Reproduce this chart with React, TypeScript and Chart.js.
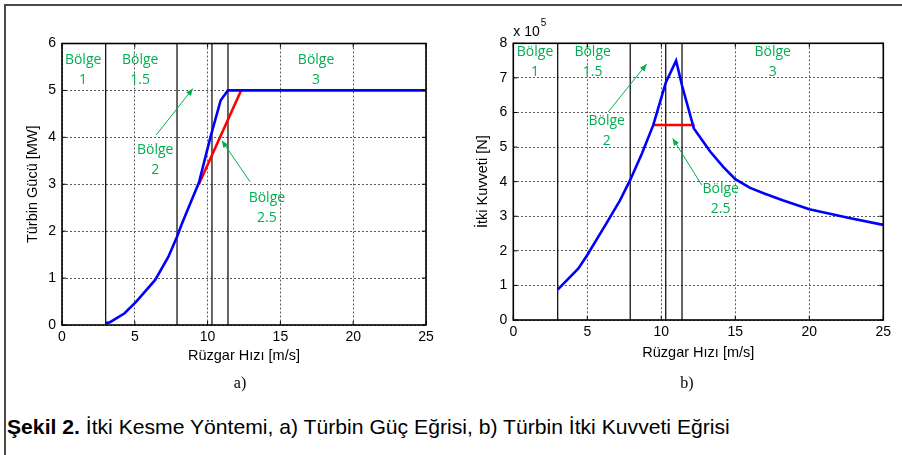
import React, { useEffect, useLayoutEffect, useRef } from 'react';
import { Chart, registerables } from 'chart.js';
Chart.register(...registerables);

// ---- data ----
const windTicks = [0, 5, 10, 15, 20, 25];
const powerTicks = [0, 1, 2, 3, 4, 5, 6];
const thrustTicks = [0, 1, 2, 3, 4, 5, 6, 7, 8];
const regionBounds = [3, 7.9, 10.3, 11.4];

const powerWind = [3, 3.3, 4.3, 5.1, 6.4, 7.3, 7.9, 8.2, 8.9, 9.4, 10.2, 10.9, 11.4, 25];
const powerMW = [0.04, 0.06, 0.25, 0.5, 0.96, 1.45, 1.88, 2.13, 2.66, 3.03, 4.01, 4.79, 5.0, 5.0];
const powerCutWind = [9.4, 12.3];
const powerCutMW = [3.0, 5.0];

const thrustWind = [3, 4.4, 5.0, 6.3, 7.2, 7.9, 8.7, 9.46, 10.3, 11.0, 11.4, 12.2, 13.3, 14.2, 15.0, 16.0, 17.0, 18.2, 20.0, 22.7, 25];
const thrustVal = [0.88, 1.49, 1.88, 2.8, 3.45, 4.05, 4.82, 5.64, 6.86, 7.5, 6.78, 5.54, 4.87, 4.42, 4.07, 3.82, 3.65, 3.46, 3.2, 2.95, 2.75];
const thrustCutWind = [9.46, 12.25];
const thrustCutVal = [5.64, 5.64];

const GREEN = '#00b050';

type Note = { lines: string[]; x: number; y: number };
type Arrow = { from: [number, number]; to: [number, number] };

const pts = (xs: number[], ys: number[]) => xs.map((x, i) => ({ x, y: ys[i] }));

function makeChart(
  canvas: HTMLCanvasElement,
  cfg: {
    curveX: number[]; curveY: number[]; cutX: number[]; cutY: number[];
    yTicks: number[]; yMax: number; yTitle: string;
    pad: { left: number; right: number; top: number; bottom: number };
    yWidth: number; xHeight: number; xTitlePad: number;
    notes: Note[]; arrows: Arrow[]; exponent?: boolean;
  }
) {
  const vlines = regionBounds.map((b) => ({
    data: [{ x: b, y: 0 }, { x: b, y: cfg.yMax }],
    borderColor: '#000', borderWidth: 1.2, pointRadius: 0, showLine: true,
  }));
  const decor = {
    id: 'decor',
    afterDraw(chart: any) {
      const { ctx, chartArea: a, scales } = chart;
      const xs = scales.x, ys = scales.y;
      ctx.save();
      ctx.strokeStyle = '#000';
      ctx.lineWidth = 1;
      const tl = 4;
      ctx.beginPath();
      windTicks.forEach((t) => {
        const px = xs.getPixelForValue(t);
        ctx.moveTo(px, a.bottom); ctx.lineTo(px, a.bottom - tl);
        ctx.moveTo(px, a.top); ctx.lineTo(px, a.top + tl);
      });
      cfg.yTicks.forEach((t) => {
        const py = ys.getPixelForValue(t);
        ctx.moveTo(a.left, py); ctx.lineTo(a.left + tl, py);
        ctx.moveTo(a.right, py); ctx.lineTo(a.right - tl, py);
      });
      ctx.stroke();
      ctx.lineWidth = 1.6;
      ctx.strokeRect(a.left, a.top, a.right - a.left, a.bottom - a.top);
      ctx.fillStyle = GREEN;
      ctx.font = '14px "Open Sans"';
      ctx.textAlign = 'center';
      ctx.textBaseline = 'middle';
      cfg.notes.forEach((n) => {
        const px = xs.getPixelForValue(n.x);
        const py = ys.getPixelForValue(n.y);
        n.lines.forEach((l, i) => ctx.fillText(l, px, py + i * 20));
      });
      ctx.strokeStyle = GREEN;
      ctx.lineWidth = 1;
      cfg.arrows.forEach((ar) => {
        const x1 = xs.getPixelForValue(ar.from[0]), y1 = ys.getPixelForValue(ar.from[1]);
        const x2 = xs.getPixelForValue(ar.to[0]), y2 = ys.getPixelForValue(ar.to[1]);
        ctx.beginPath(); ctx.moveTo(x1, y1); ctx.lineTo(x2, y2); ctx.stroke();
        const ang = Math.atan2(y2 - y1, x2 - x1);
        const L = 7, W = 3;
        ctx.beginPath();
        ctx.moveTo(x2, y2);
        ctx.lineTo(x2 - L * Math.cos(ang) + W * Math.sin(ang), y2 - L * Math.sin(ang) - W * Math.cos(ang));
        ctx.lineTo(x2 - L * Math.cos(ang) - W * Math.sin(ang), y2 - L * Math.sin(ang) + W * Math.cos(ang));
        ctx.closePath(); ctx.fill();
      });
      if (cfg.exponent) {
        ctx.fillStyle = '#000';
        ctx.textAlign = 'left';
        ctx.textBaseline = 'alphabetic';
        ctx.font = '14px "Liberation Sans"';
        ctx.fillText('x 10', a.left, a.top - 7);
        const w = ctx.measureText('x 10').width;
        ctx.font = '10px "Liberation Sans"';
        ctx.fillText('5', a.left + w + 1, a.top - 17);
      }
      ctx.restore();
    },
  };
  const tickFont = { family: '"Liberation Sans", Arial, sans-serif', size: 14 };
  const titleFont = { family: '"Liberation Sans", Arial, sans-serif', size: 14.5 };
  return new Chart(canvas, {
    type: 'line',
    data: {
      datasets: [
        { data: pts(cfg.curveX, cfg.curveY), borderColor: '#0000ff', borderWidth: 2.6, pointRadius: 0, tension: 0 },
        { data: pts(cfg.cutX, cfg.cutY), borderColor: '#ff0000', borderWidth: 2.6, pointRadius: 0, tension: 0 },
        ...vlines,
      ] as any,
    },
    options: {
      animation: false,
      responsive: false,
      parsing: false as any,
      layout: { padding: cfg.pad },
      plugins: { legend: { display: false }, tooltip: { enabled: false } },
      scales: {
        x: {
          type: 'linear', min: 0, max: 25,
          afterBuildTicks: (s: any) => { s.ticks = windTicks.map((v) => ({ value: v })); },
          afterFit: (s: any) => { s.height = cfg.xHeight; },
          ticks: { color: '#000', font: tickFont, padding: 4, maxRotation: 0 },
          grid: { color: '#5a5a5a', lineWidth: 1, drawTicks: false },
          border: { display: false, dash: [2, 2] },
          title: { display: true, text: 'Rüzgar Hızı [m/s]', color: '#000', font: titleFont, padding: { top: 0, bottom: cfg.xTitlePad } },
        },
        y: {
          type: 'linear', min: 0, max: cfg.yMax,
          afterBuildTicks: (s: any) => { s.ticks = cfg.yTicks.map((v) => ({ value: v })); },
          afterFit: (s: any) => { s.width = cfg.yWidth; },
          ticks: { color: '#000', font: tickFont, padding: 6 },
          grid: { color: '#5a5a5a', lineWidth: 1, drawTicks: false },
          border: { display: false, dash: [2, 2] },
          title: { display: true, text: cfg.yTitle, color: '#000', font: titleFont, padding: { top: 4, bottom: 0 } },
        },
      },
    } as any,
    plugins: [decor],
  });
}

export default function App() {
  const leftRef = useRef<HTMLCanvasElement>(null);
  const rightRef = useRef<HTMLCanvasElement>(null);
  const capRef = useRef<HTMLDivElement>(null);
  useLayoutEffect(() => {
    const el = capRef.current;
    if (el) {
      const w = el.scrollWidth;
      if (w > 0) el.style.transform = `scaleX(${723 / w})`;
    }
  }, []);
  useEffect(() => {
    const c1 = makeChart(leftRef.current!, {
      curveX: powerWind, curveY: powerMW, cutX: powerCutWind, cutY: powerCutMW,
      yTicks: powerTicks, yMax: 6, yTitle: 'Türbin Gücü [MW]',
      pad: { left: 20, right: 24, top: 43.5, bottom: 15 },
      yWidth: 42, xHeight: 40, xTitlePad: 0,
      notes: [
        { lines: ['Bölge', '1'], x: 1.45, y: 5.65 },
        { lines: ['Bölge', '1.5'], x: 5.37, y: 5.65 },
        { lines: ['Bölge', '3'], x: 17.45, y: 5.65 },
        { lines: ['Bölge', '2'], x: 6.4, y: 3.73 },
        { lines: ['Bölge', '2.5'], x: 14.07, y: 2.7 },
      ],
      arrows: [
        { from: [6.47, 4.05], to: [8.99, 5.04] },
        { from: [12.92, 3.05], to: [10.98, 3.93] },
      ],
    });
    const c2 = makeChart(rightRef.current!, {
      curveX: thrustWind, curveY: thrustVal, cutX: thrustCutWind, cutY: thrustCutVal,
      yTicks: thrustTicks, yMax: 8, yTitle: 'İtki Kuvveti [N]',
      pad: { left: 20, right: 18.7, top: 43.3, bottom: 18 },
      yWidth: 43.3, xHeight: 42, xTitlePad: 0,
      notes: [
        { lines: ['Bölge', '1'], x: 1.47, y: 7.76 },
        { lines: ['Bölge', '1.5'], x: 5.36, y: 7.76 },
        { lines: ['Bölge', '3'], x: 17.53, y: 7.76 },
        { lines: ['Bölge', '2'], x: 6.31, y: 5.76 },
        { lines: ['Bölge', '2.5'], x: 14.01, y: 3.78 },
      ],
      arrows: [
        { from: [6.42, 6.02], to: [9.01, 7.4] },
        { from: [12.73, 3.9], to: [10.77, 5.25] },
      ],
      exponent: true,
    });
    return () => { c1.destroy(); c2.destroy(); };
  }, []);

  return (
    <div style={{ position: 'absolute', left: 0, top: 0, width: 902, height: 455, background: '#fff', overflow: 'hidden' }}>
      <div style={{ position: 'absolute', left: 4, top: 4, width: 898, height: 2, background: '#4a4a4a' }} />
      <div style={{ position: 'absolute', left: 4, top: 4, width: 2, height: 451, background: '#4a4a4a' }} />
      <canvas ref={leftRef} width={450} height={380} style={{ position: 'absolute', left: 0, top: 0 }} />
      <canvas ref={rightRef} width={452} height={380} style={{ position: 'absolute', left: 450, top: 0 }} />
      <div style={{ position: 'absolute', left: 190, width: 100, top: 372, textAlign: 'center', fontFamily: '"Liberation Serif", serif', fontSize: 16, lineHeight: '22px' }}>a)</div>
      <div style={{ position: 'absolute', left: 637, width: 100, top: 372, textAlign: 'center', fontFamily: '"Liberation Serif", serif', fontSize: 16, lineHeight: '22px' }}>b)</div>
      <div ref={capRef} style={{ position: 'absolute', left: 7, top: 416, whiteSpace: 'nowrap', transformOrigin: 'left top', fontFamily: '"Liberation Sans", Arial, sans-serif', fontSize: 21, lineHeight: '21px' }}>
        <b>Şekil 2.</b> İtki Kesme Yöntemi, a) Türbin Güç Eğrisi, b) Türbin İtki Kuvveti Eğrisi
      </div>
    </div>
  );
}
